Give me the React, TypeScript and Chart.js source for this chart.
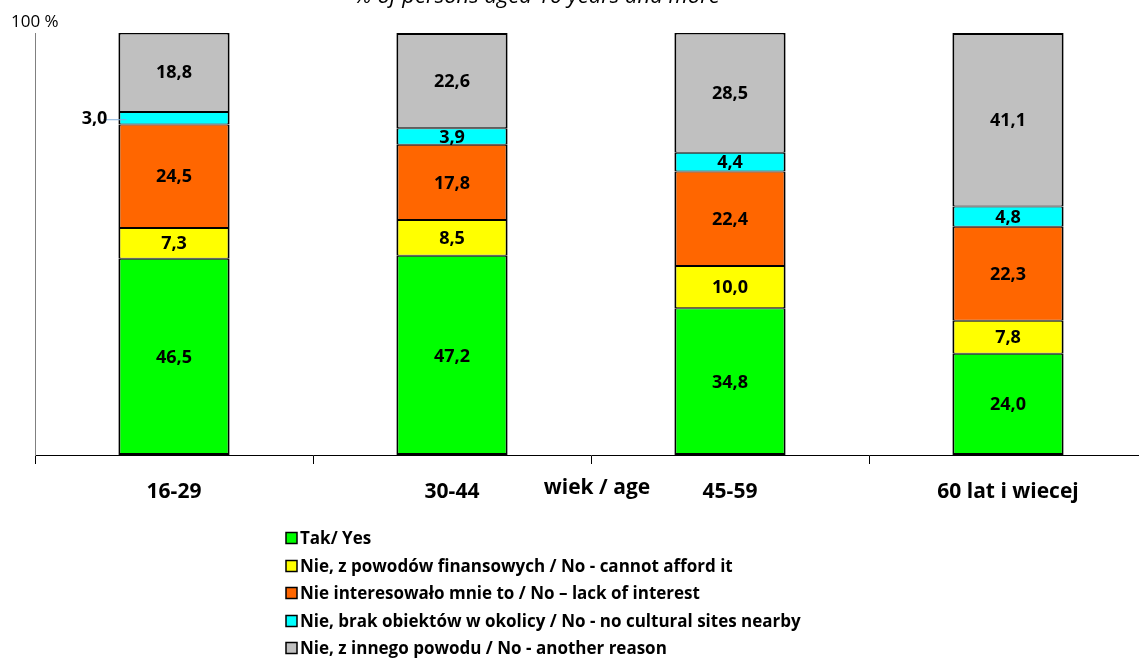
import React, { useEffect, useRef } from "react";
import { Chart, registerables } from "chart.js";

Chart.register(...registerables);

const categories = ["16-29", "30-44", "45-59", "60 lat i wiecej"];
const seriesNames = [
  "Tak/ Yes",
  "Nie, z powodów finansowych / No - cannot afford it",
  "Nie interesowało mnie to / No – lack of interest",
  "Nie, brak obiektów w okolicy / No - no cultural sites nearby",
  "Nie, z innego powodu / No - another reason",
];
const yesValues = [46.5, 47.2, 34.8, 24.0];
const cannotAffordValues = [7.3, 8.5, 10.0, 7.8];
const lackOfInterestValues = [24.5, 17.8, 22.4, 22.3];
const noSitesValues = [3.0, 3.9, 4.4, 4.8];
const anotherReasonValues = [18.8, 22.6, 28.5, 41.1];
const seriesColors = ["#00FF00", "#FFFF00", "#FF6600", "#00FFFF", "#C0C0C0"];
const titleText = "% of persons aged 16 years and more";
const axisTitle = "wiek / age";
const yTopLabel = "100 %";

const FONT = "'Open Sans', 'Noto Sans', sans-serif";

const fmt = (v: number) => v.toFixed(1).replace(".", ",");

const decorPlugin = {
  id: "decor",
  afterDatasetsDraw(chart: any) {
    const ctx = chart.ctx;
    ctx.save();
    ctx.fillStyle = "#000";
    ctx.font = `bold 18px ${FONT}`;
    ctx.textBaseline = "middle";
    chart.data.datasets.forEach((ds: any, di: number) => {
      const meta = chart.getDatasetMeta(di);
      meta.data.forEach((bar: any, i: number) => {
        const v = ds.data[i];
        const cy = (bar.y + bar.base) / 2;
        if (di === 3 && i === 0) {
          const left = bar.x - bar.width / 2;
          ctx.strokeStyle = "#7FAEDC";
          ctx.lineWidth = 1;
          ctx.beginPath();
          ctx.moveTo(left - 15, cy + 1.5);
          ctx.lineTo(left + 8, cy + 1.5);
          ctx.stroke();
          ctx.textAlign = "right";
          ctx.fillText(fmt(v), left - 11, cy + 1);
        } else {
          ctx.textAlign = "center";
          ctx.fillText(fmt(v), bar.x, cy + 1);
        }
      });
    });
    ctx.restore();
  },
  afterDraw(chart: any) {
    const ctx = chart.ctx;
    ctx.save();
    ctx.fillStyle = "#000";
    // title (cut off at the top)
    ctx.font = `italic 22px ${FONT}`;
    ctx.textAlign = "center";
    ctx.textBaseline = "alphabetic";
    ctx.fillText(titleText, 537, 3);
    // 100 % label
    ctx.font = `17px ${FONT}`;
    ctx.textAlign = "left";
    ctx.textBaseline = "middle";
    ctx.fillText(yTopLabel, 11, 22);
    // axis title
    ctx.font = `bold 21px ${FONT}`;
    ctx.textAlign = "center";
    ctx.fillText(axisTitle, 597, 488);
    // legend
    const rowY = [538, 566, 593, 621, 648];
    chart.data.datasets.forEach((ds: any, di: number) => {
      const y = rowY[di];
      ctx.fillStyle = ds.backgroundColor;
      ctx.fillRect(286, y - 5.5, 11, 11);
      ctx.strokeStyle = "#000";
      ctx.lineWidth = 1.5;
      ctx.strokeRect(286, y - 5.5, 11, 11);
      ctx.fillStyle = "#000";
      ctx.font = `bold 17px ${FONT}`;
      ctx.textAlign = "left";
      ctx.textBaseline = "middle";
      ctx.fillText(ds.label, 300, y + 1);
    });
    ctx.restore();
  },
};

export default function App() {
  const ref = useRef<HTMLCanvasElement | null>(null);
  useEffect(() => {
    if (!ref.current) return;
    const allSeries = [
      yesValues,
      cannotAffordValues,
      lackOfInterestValues,
      noSitesValues,
      anotherReasonValues,
    ];
    const n = allSeries.length;
    const chart = new Chart(ref.current, {
      type: "bar",
      data: {
        labels: categories,
        datasets: allSeries.map((vals, i) => ({
          label: seriesNames[i],
          data: vals,
          backgroundColor: seriesColors[i],
          borderColor: "#000",
          borderWidth: {
            left: 2,
            right: 2,
            top: i === n - 1 ? 2 : 1,
            bottom: i === 0 ? 2 : 1,
          },
          borderSkipped: false,
          barPercentage: 0.4,
          categoryPercentage: 1,
        })),
      },
      options: {
        responsive: false,
        animation: false,
        devicePixelRatio: 1,
        layout: { padding: { left: 35, right: 13, top: 33, bottom: 0 } },
        plugins: {
          legend: { display: false },
          tooltip: { enabled: false },
          title: { display: false },
        },
        scales: {
          x: {
            stacked: true,
            offset: true,
            grid: {
              display: true,
              drawOnChartArea: false,
              drawTicks: true,
              tickLength: 9,
              color: "#000",
              offset: true,
            },
            border: { display: true, color: "#000", width: 1 },
            ticks: {
              color: "#000",
              font: { family: FONT, size: 21, weight: "bold" },
              padding: 15,
              maxRotation: 0,
              autoSkip: false,
            },
            afterFit: (scale: any) => {
              scale.height = 204;
            },
          },
          y: {
            stacked: true,
            min: 0,
            max: 100,
            grid: { display: false, drawTicks: false },
            border: { display: true, color: "#808080", width: 1 },
            ticks: { display: false },
            afterFit: (scale: any) => {
              scale.width = 0;
            },
          },
        },
      } as any,
      plugins: [decorPlugin],
    });
    return () => chart.destroy();
  }, []);
  return (
    <div
      style={{
        position: "absolute",
        left: 0,
        top: 0,
        width: 1139,
        height: 659,
        overflow: "hidden",
        background: "#fff",
      }}
    >
      <canvas ref={ref} width={1160} height={659} style={{ display: "block" }} />
    </div>
  );
}
